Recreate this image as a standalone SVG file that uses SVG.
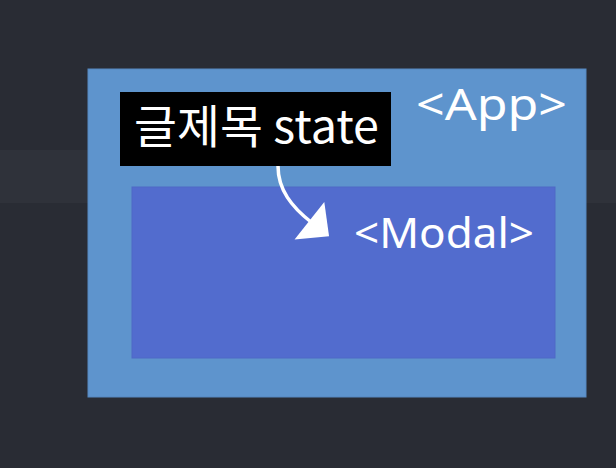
<svg xmlns="http://www.w3.org/2000/svg" width="616" height="468" viewBox="0 0 616 468">
<style>
.lbl{font-family:"Noto Sans","Open Sans","Liberation Sans",sans-serif;fill:#ffffff}
.kr{font-family:"Noto Sans CJK KR","Noto Sans",sans-serif;fill:#ffffff}
</style>
<defs>
<marker id="ah" markerUnits="userSpaceOnUse" markerWidth="50" markerHeight="50" refX="0" refY="0" viewBox="-5 -25 30 50" orient="auto">
<polygon points="-2,-24 23,0 -2,24" fill="#ffffff"/>
</marker>
</defs>
<rect x="0" y="0" width="616" height="468" fill="#292c34"/>
<rect x="0" y="150" width="616" height="53" fill="#2f323a"/>
<g id="app">
<rect x="88" y="69" width="498" height="328" fill="#5e94cd" stroke="#5688c0" stroke-width="1"/>
<text class="lbl" transform="translate(416,120) scale(1,1.2)" x="0" y="0" font-size="36" textLength="151" lengthAdjust="spacingAndGlyphs">&lt;App&gt;</text>
</g>
<g id="modal">
<rect x="132" y="187" width="423" height="171" fill="#526cce" stroke="#4e68c6" stroke-width="1"/>
<text class="lbl" transform="translate(354,248) scale(1,1.15)" x="0" y="0" font-size="37" textLength="180" lengthAdjust="spacingAndGlyphs">&lt;Modal&gt;</text>
</g>
<g id="state">
<rect x="120" y="92" width="271" height="74" fill="#000000"/>
<text class="kr" x="134" y="143" font-size="46" textLength="245" lengthAdjust="spacingAndGlyphs">글제목 state</text>
</g>
<g id="connectors">
<path d="M278,166 C278,190 292,207 311,222" fill="none" stroke="#ffffff" stroke-width="3.5" marker-end="url(#ah)"/>
</g>
</svg>
